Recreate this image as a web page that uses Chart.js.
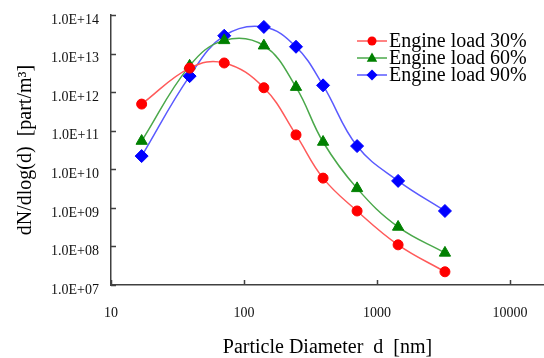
<!DOCTYPE html>
<html>
<head>
<meta charset="utf-8">
<script src="https://cdn.jsdelivr.net/npm/chart.js@4/dist/chart.umd.min.js"></script>
<style>
html,body{margin:0;padding:0;background:#fff;}
#wrap{width:544px;height:358px;}
</style>
</head>
<body>
<div id="wrap"><canvas id="c" width="544" height="358"></canvas></div>
<script>
// ---- data ----
const diameters = [17, 39, 71, 141, 246, 393, 708, 1440, 3240];
const load30 = [4.9e11, 4.2e12, 5.7e12, 1.3e12, 7.8e10, 5.9e9, 8.3e8, 1.1e8, 2.2e7];
const load60 = [5.4e10, 4.8e12, 2.2e13, 1.6e13, 1.35e12, 5.1e10, 3.2e9, 3.2e8, 6.8e7];
const load90 = [2.2e10, 2.6e12, 2.9e13, 4.9e13, 1.5e13, 1.5e12, 4.0e10, 5.0e9, 8.3e8];
const seriesNames = ['Engine load 30%', 'Engine load 60%', 'Engine load 90%'];
const xTicks = [10, 100, 1000, 10000];
const yTicks = [1e7, 1e8, 1e9, 1e10, 1e11, 1e12, 1e13, 1e14];
const xTitle = 'Particle Diameter  d  [nm]';
const yTitle = 'dN/dlog(d)  [part/m\u00B3]';

function fmtExp(v) {
  const e = Math.round(Math.log10(v));
  const m = v / Math.pow(10, e);
  return m.toFixed(1) + 'E+' + (e < 10 ? '0' + e : '' + e);
}
function pts(ys) { return diameters.map((d, i) => ({x: d, y: ys[i]})); }

const styles = [
  {line: '#ff5a5a', fill: '#ff0000', shape: 'circle', r: 5},
  {line: '#4aa84a', fill: '#008000', shape: 'triangle', r: 6.5},
  {line: '#5a5aff', fill: '#0000ff', shape: 'rectRot', r: 6.5}
];
const values = [load30, load60, load90];

const datasets = values.map((v, i) => ({
  label: seriesNames[i],
  data: pts(v),
  borderColor: styles[i].line,
  borderWidth: 1.5,
  backgroundColor: styles[i].fill,
  pointBackgroundColor: styles[i].fill,
  pointBorderColor: styles[i].fill,
  pointBorderWidth: 1,
  pointStyle: styles[i].shape,
  pointRadius: styles[i].r,
  tension: 0.4,
  fill: false,
  clip: 10
}));

function drawMarker(ctx, shape, x, y, r, color) {
  ctx.save();
  ctx.fillStyle = color;
  ctx.beginPath();
  if (shape === 'circle') {
    ctx.arc(x, y, r, 0, Math.PI * 2);
  } else if (shape === 'triangle') {
    ctx.moveTo(x, y - r);
    ctx.lineTo(x + r * 0.95, y + r * 0.7);
    ctx.lineTo(x - r * 0.95, y + r * 0.7);
    ctx.closePath();
  } else {
    ctx.moveTo(x, y - r);
    ctx.lineTo(x + r, y);
    ctx.lineTo(x, y + r);
    ctx.lineTo(x - r, y);
    ctx.closePath();
  }
  ctx.fill();
  ctx.restore();
}

const innerTicks = {
  id: 'innerTicks',
  afterDraw(chart) {
    const {ctx, chartArea} = chart;
    const xs = chart.scales.x, ys = chart.scales.y;
    ctx.save();
    ctx.strokeStyle = '#404040';
    ctx.lineWidth = 1.5;
    ctx.beginPath();
    xs.ticks.forEach(t => {
      const px = Math.round(xs.getPixelForValue(t.value)) + 0.5;
      ctx.moveTo(px, chartArea.bottom);
      ctx.lineTo(px, chartArea.bottom - 5);
    });
    ys.ticks.forEach(t => {
      const py = Math.round(ys.getPixelForValue(t.value)) + 0.5;
      ctx.moveTo(chartArea.left, py);
      ctx.lineTo(chartArea.left + 5, py);
    });
    ctx.stroke();
    ctx.restore();
  }
};

const innerLegend = {
  id: 'innerLegend',
  afterDraw(chart) {
    const {ctx, chartArea} = chart;
    const x0 = chartArea.right - 187;
    const y0 = chartArea.top + 26;
    const rowH = 17;
    ctx.save();
    chart.data.datasets.forEach((ds, i) => {
      const y = y0 + i * rowH;
      ctx.strokeStyle = styles[i].line;
      ctx.lineWidth = 1.5;
      ctx.beginPath();
      ctx.moveTo(x0, y);
      ctx.lineTo(x0 + 30, y);
      ctx.stroke();
      drawMarker(ctx, styles[i].shape, x0 + 15, y, styles[i].shape === 'circle' ? 4.5 : 5.5, styles[i].fill);
      ctx.fillStyle = '#000';
      ctx.font = '20px "Liberation Serif"';
      ctx.textBaseline = 'middle';
      ctx.textAlign = 'left';
      ctx.fillText(ds.label, x0 + 32, y + 1);
    });
    ctx.restore();
  }
};

Chart.defaults.font.family = '"Liberation Serif", "Times New Roman", serif';
Chart.defaults.color = '#111';

new Chart(document.getElementById('c'), {
  type: 'line',
  data: {datasets},
  options: {
    responsive: false,
    animation: false,
    layout: {autoPadding: false, padding: {top: 15, right: 0, left: 0, bottom: 0}},
    plugins: {legend: {display: false}, tooltip: {enabled: false}},
    scales: {
      x: {
        type: 'logarithmic',
        min: 10,
        max: 18000,
        afterBuildTicks: s => { s.ticks = xTicks.map(v => ({value: v})); },
        afterFit: s => { s.height = 73; s.paddingLeft = 0; s.paddingRight = 0; },
        ticks: {
          callback: v => String(v),
          font: {size: 14},
          padding: 20,
          maxRotation: 0,
          autoSkip: false
        },
        grid: {display: true, drawOnChartArea: false, drawTicks: false},
        border: {display: true, color: '#404040', width: 1.5},
        title: {display: true, text: xTitle, font: {size: 20, lineHeight: 1}, padding: {top: 0, bottom: 0}, color: '#000'}
      },
      y: {
        type: 'logarithmic',
        min: 1e7,
        max: 1e14,
        afterBuildTicks: s => { s.ticks = yTicks.map(v => ({value: v})); },
        afterFit: s => { s.width = 111; s.paddingTop = 0; s.paddingBottom = 0; },
        ticks: {
          callback: v => fmtExp(v),
          font: {size: 14},
          padding: 12,
          labelOffset: 5,
          autoSkip: false
        },
        grid: {display: true, drawOnChartArea: false, drawTicks: false},
        border: {display: true, color: '#404040', width: 1.5},
        title: {display: true, text: yTitle, font: {size: 20, lineHeight: 1}, padding: {top: 16, bottom: 0}, color: '#000'}
      }
    }
  },
  plugins: [innerTicks, innerLegend]
});
</script>
</body>
</html>
